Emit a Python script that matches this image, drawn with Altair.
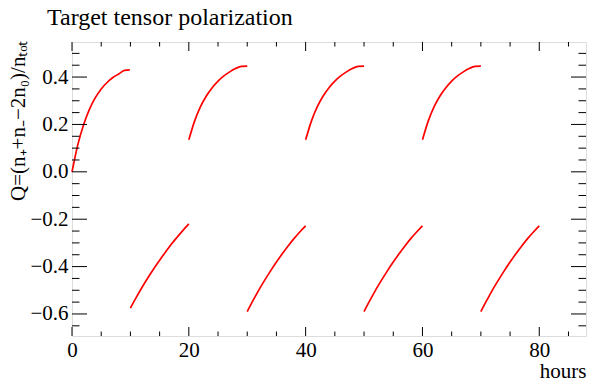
import altair as alt
import pandas as pd

# ---- data ----
t1 = [0, 0.5, 1, 2, 3, 4, 5, 6, 7, 8, 9, 9.9]
q1 = [0, 0.06, 0.115, 0.2, 0.265, 0.313, 0.35, 0.377, 0.398, 0.413, 0.428, 0.43]
t2 = [10, 11, 12, 13, 14, 15, 16, 17, 18, 19, 20]
q2 = [-0.575, -0.53, -0.487, -0.447, -0.409, -0.373, -0.339, -0.306, -0.276, -0.247, -0.22]
t3 = [20, 21, 22, 23, 24, 25, 26, 27, 28, 29, 30]
q3 = [0.135, 0.215, 0.275, 0.32, 0.355, 0.383, 0.405, 0.422, 0.436, 0.445, 0.446]
t4 = [30, 31, 32, 33, 34, 35, 36, 37, 38, 39, 40]
q4 = [-0.59, -0.543, -0.498, -0.457, -0.418, -0.381, -0.346, -0.313, -0.282, -0.254, -0.228]
t5 = [40, 41, 42, 43, 44, 45, 46, 47, 48, 49, 50]
q5 = [0.135, 0.215, 0.275, 0.32, 0.355, 0.383, 0.405, 0.422, 0.436, 0.445, 0.446]
t6 = [50, 51, 52, 53, 54, 55, 56, 57, 58, 59, 60]
q6 = [-0.59, -0.543, -0.498, -0.457, -0.418, -0.381, -0.346, -0.313, -0.282, -0.254, -0.228]
t7 = [60, 61, 62, 63, 64, 65, 66, 67, 68, 69, 70]
q7 = [0.135, 0.215, 0.275, 0.32, 0.355, 0.383, 0.405, 0.422, 0.436, 0.445, 0.446]
t8 = [70, 71, 72, 73, 74, 75, 76, 77, 78, 79, 80]
q8 = [-0.59, -0.543, -0.498, -0.457, -0.418, -0.381, -0.346, -0.313, -0.282, -0.254, -0.228]

x_major = [0, 20, 40, 60, 80]
x_minor = [5, 10, 15, 25, 30, 35, 45, 50, 55, 65, 70, 75, 85]
y_major = [-0.6, -0.4, -0.2, 0.0, 0.2, 0.4]
y_minor = [-0.65, -0.55, -0.5, -0.45, -0.35, -0.3, -0.25, -0.15, -0.1, -0.05,
           0.05, 0.1, 0.15, 0.25, 0.3, 0.35, 0.45, 0.5]

title_text = ["Target tensor polarization"]

x_domain = [0, 88]
y_domain = [-0.693, 0.548]

W, H = 514, 294
FONT = "Liberation Serif"

segs = [(t1, q1), (t2, q2), (t3, q3), (t4, q4), (t5, q5), (t6, q6), (t7, q7), (t8, q8)]
rows = []
for i, (ts, qs) in enumerate(segs):
    for t, q in zip(ts, qs):
        rows.append({"seg": i, "t": t, "q": q})
df = pd.DataFrame(rows)

xs = alt.Scale(domain=x_domain, nice=False, zero=False)
ys = alt.Scale(domain=y_domain, nice=False, zero=False)

curves = alt.Chart(df).mark_line(color="#ff0000", strokeWidth=1.7, interpolate="monotone").encode(
    x=alt.X("t:Q", scale=xs, axis=alt.Axis(
        title="hours", values=x_major, format="d", ticks=False, domain=False, grid=False,
        labelFlush=False, labelOverlap=False,
        labelFont=FONT, labelFontSize=21, labelColor="black", labelPadding=3,
        titleFont=FONT, titleFontSize=21, titleFontWeight="normal", titleColor="black",
        titleAnchor="end", titleAlign="right", titleBaseline="alphabetic",
        titleX=W, titleY=41)),
    y=alt.Y("q:Q", scale=ys, axis=alt.Axis(
        title="Q=(n₊+n₋−2n₀)/nₜₒₜ", values=y_major, format=".1f", ticks=False, domain=False,
        grid=False, labelFlush=False, labelOverlap=False,
        labelFont=FONT, labelFontSize=21, labelColor="black", labelPadding=4,
        titleFont=FONT, titleFontSize=21, titleFontWeight="normal", titleColor="black",
        titleAngle=270, titleAlign="right", titleBaseline="alphabetic",
        titleX=-48, titleY=-2)),
    detail="seg:N",
)

def xticks(vals, length):
    d = pd.DataFrame({"t": vals})
    bot = alt.Chart(d).mark_rule(color="black", strokeWidth=1).encode(
        x=alt.X("t:Q", scale=xs), y=alt.value(H), y2=alt.value(H - length))
    top = alt.Chart(d).mark_rule(color="black", strokeWidth=1).encode(
        x=alt.X("t:Q", scale=xs), y=alt.value(0), y2=alt.value(length))
    return [bot, top]

def yticks(vals, length):
    d = pd.DataFrame({"q": vals})
    left = alt.Chart(d).mark_rule(color="black", strokeWidth=1).encode(
        y=alt.Y("q:Q", scale=ys), x=alt.value(0), x2=alt.value(length))
    right = alt.Chart(d).mark_rule(color="black", strokeWidth=1).encode(
        y=alt.Y("q:Q", scale=ys), x=alt.value(W), x2=alt.value(W - length))
    return [left, right]

title_mark = alt.Chart(pd.DataFrame({"s": title_text})).mark_text(
    font=FONT, fontSize=24, color="black", align="left", baseline="alphabetic"
).encode(text="s:N", x=alt.value(-25), y=alt.value(-17))

layers = ([curves] + xticks(x_major, 9) + xticks(x_minor, 4.5)
          + yticks(y_major, 15) + yticks(y_minor, 7.5) + [title_mark])

chart = alt.layer(*layers).properties(
    width=W, height=H,
    autosize=alt.AutoSizeParams(type="none"),
    padding={"left": 64, "top": 34, "right": 4, "bottom": 46},
).configure_view(stroke="black", strokeWidth=2).configure(background="white")

chart.save("out.html", embed_options={"renderer": "svg", "actions": False})
